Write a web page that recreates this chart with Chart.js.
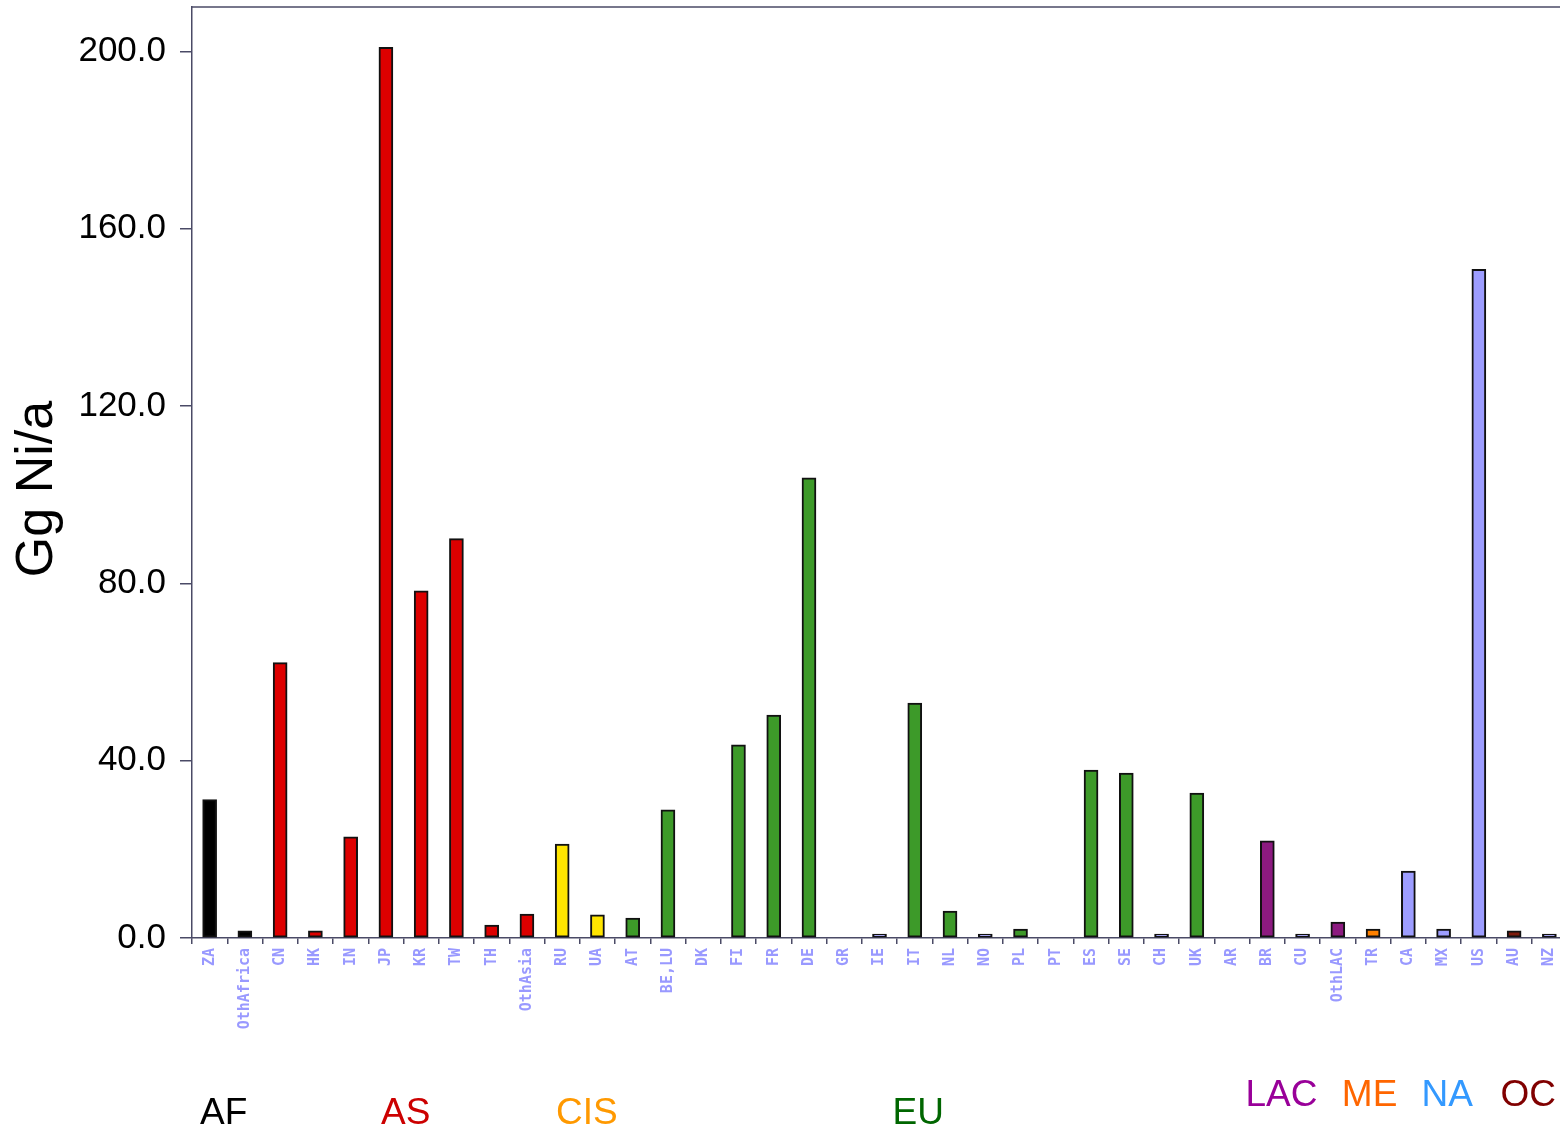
<!DOCTYPE html>
<html>
<head>
<meta charset="utf-8">
<script src="https://cdn.jsdelivr.net/npm/chart.js@4.4.1/dist/chart.umd.min.js"></script>
<style>
    html, body { margin: 0; padding: 0; background: #fff; overflow: hidden; }
    #wrap { width: 1560px; height: 1126px; overflow: hidden; }
</style>
</head>
<body>
<div id="wrap"><canvas id="chart" width="1567" height="1126"></canvas></div>
<script>
// Страны (подписи оси X)
const countries = ['ZA', 'OthAfrica', 'CN', 'HK', 'IN', 'JP', 'KR', 'TW', 'TH', 'OthAsia',
    'RU', 'UA', 'AT', 'BE,LU', 'DK', 'FI', 'FR', 'DE', 'GR', 'IE',
    'IT', 'NL', 'NO', 'PL', 'PT', 'ES', 'SE', 'CH', 'UK', 'AR',
    'BR', 'CU', 'OthLAC', 'TR', 'CA', 'MX', 'US', 'AU', 'NZ'];

// Выбросы, Gg Ni/a
const emissions = [31.2, 1.6, 62.1, 1.6, 22.8, 200.9, 78.3, 90.1, 2.9, 5.4,
    21.2, 5.2, 4.5, 28.9, 0, 43.6, 50.3, 103.8, 0, 0.9,
    53.0, 6.1, 0.9, 2.0, 0, 37.9, 37.2, 0.9, 32.7, 0,
    21.9, 0.9, 3.6, 2.0, 15.1, 2.0, 150.8, 1.6, 0.9];

// Цвет каждого столбца
const AF = '#000000', AS = '#dd0000', CIS = '#ffe500', EU = '#3d9a29',
      LAC = '#8c1a80', ME = '#ff8000', NA = '#9d9dff', OC = '#7d1a0c';
const barColors = [AF, AF, AS, AS, AS, AS, AS, AS, AS, AS,
    CIS, CIS, EU, EU, EU, EU, EU, EU, EU, NA,
    EU, EU, NA, EU, EU, EU, EU, NA, EU, LAC,
    LAC, NA, LAC, ME, NA, NA, NA, OC, NA];

// Подписи регионов под осью (позиция в долях категорий)
const regionNames  = ['AF', 'AS', 'CIS', 'EU', 'LAC', 'ME', 'NA', 'OC'];
const regionColors = ['#000000', '#cc0000', '#ff9900', '#006600', '#990099', '#ff6600', '#3399ff', '#800000'];
const regionAt     = [0.4, 5.56, 10.7, 20.1, 30.4, 32.9, 35.1, 37.4];
const regionRow    = [0, 0, 0, 0, 1, 1, 1, 1];

const yTicks = [0, 40, 80, 120, 160, 200];

const AXIS = '#4a4a66';

// Верхняя рамка, подпись оси Y и подписи регионов
const extrasPlugin = {
    id: 'extras',
    afterDraw(chart) {
        const ctx = chart.ctx;
        const area = chart.chartArea;
        const x = chart.scales.x;
        ctx.save();
        ctx.strokeStyle = AXIS;
        ctx.lineWidth = 1.5;
        ctx.beginPath();
        ctx.moveTo(area.left, area.top);
        ctx.lineTo(area.right, area.top);
        ctx.stroke();

        // Подпись оси Y
        ctx.save();
        ctx.translate(38, 489);
        ctx.rotate(-Math.PI / 2);
        ctx.fillStyle = '#000000';
        ctx.font = '52px "Liberation Sans", Arial, sans-serif';
        ctx.textAlign = 'center';
        ctx.textBaseline = 'middle';
        ctx.fillText('Gg Ni/a', 0, 0);
        ctx.restore();

        ctx.font = '37px "Liberation Sans", Arial, sans-serif';
        ctx.textAlign = 'center';
        ctx.textBaseline = 'alphabetic';
        regionNames.forEach((name, i) => {
            ctx.fillStyle = regionColors[i];
            const px = x.getPixelForValue(regionAt[i]);
            const py = regionRow[i] === 0 ? 1124 : 1106;
            ctx.fillText(name, px, py);
        });
        ctx.restore();
    }
};

new Chart(document.getElementById('chart'), {
    type: 'bar',
    data: {
        labels: countries,
        datasets: [{
            data: emissions,
            backgroundColor: barColors,
            borderColor: '#111111',
            borderWidth: 2,
            borderSkipped: false,
            barThickness: 14
        }]
    },
    options: {
        responsive: false,
        animation: false,
        layout: { padding: { top: 7, right: 0, bottom: 0, left: 0 } },
        plugins: {
            legend: { display: false },
            tooltip: { enabled: false }
        },
        scales: {
            x: {
                offset: true,
                grid: {
                    offset: true,
                    drawOnChartArea: false,
                    drawTicks: true,
                    tickLength: 6,
                    color: AXIS,
                    lineWidth: 1.5
                },
                border: { color: AXIS, width: 1.5 },
                ticks: {
                    minRotation: 90,
                    maxRotation: 90,
                    autoSkip: false,
                    padding: 4,
                    color: '#9999ff',
                    font: { family: '"DejaVu Sans Mono", monospace', size: 15, weight: 'bold' }
                },
                afterFit(scale) {
                    scale.height = 188;
                    scale.paddingLeft = 0;
                    scale.paddingRight = 0;
                }
            },
            y: {
                min: 0,
                max: 210,
                grid: {
                    drawOnChartArea: false,
                    tickLength: 12,
                    color: AXIS,
                    lineWidth: 1.5
                },
                border: { color: AXIS, width: 1.5 },
                ticks: {
                    stepSize: 40,
                    padding: 14,
                    color: '#000000',
                    font: { family: '"Liberation Sans", Arial, sans-serif', size: 35 },
                    callback: v => Number(v).toFixed(1)
                },
                afterBuildTicks(scale) {
                    scale.ticks = yTicks.map(v => ({ value: v }));
                },
                afterFit(scale) {
                    scale.width = 192;
                    scale.paddingTop = 0;
                    scale.paddingBottom = 0;
                }
            }
        }
    },
    plugins: [extrasPlugin]
});
</script>
</body>
</html>
